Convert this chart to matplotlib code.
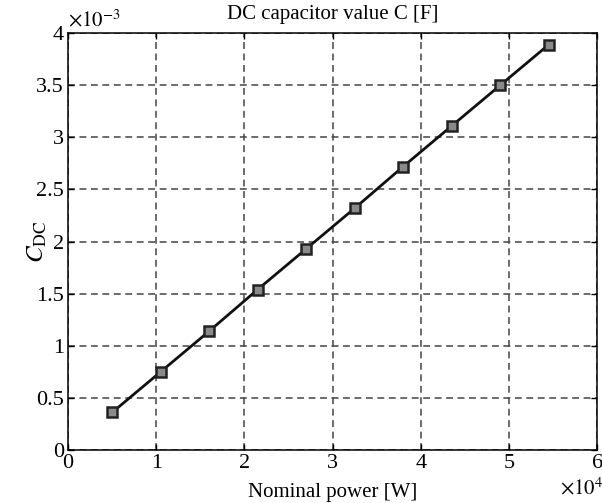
import numpy as np
import matplotlib
matplotlib.use("Agg")
import matplotlib.pyplot as plt

plt.rcParams['font.family'] = 'Liberation Serif'
plt.rcParams['mathtext.fontset'] = 'stix'

# nominal power [W] and DC capacitor value [F]
power = np.array([5000, 10500, 16000, 21500, 27000, 32500, 38000, 43500, 49000, 54500])
cap = np.array([0.36e-3, 0.75e-3, 1.14e-3, 1.54e-3, 1.93e-3, 2.32e-3, 2.72e-3, 3.11e-3, 3.50e-3, 3.89e-3])

xticks = [0, 1, 2, 3, 4, 5, 6]
yticks = [0, 0.5, 1, 1.5, 2, 2.5, 3, 3.5, 4]
yticklabels = ['0', '0.5', '1', '1.5', '2', '2.5', '3', '3.5', '4']

fig = plt.figure(figsize=(6.02, 5.03), dpi=100)
ax = fig.add_axes([0.113, 0.1054, 0.879, 0.8286])

ax.plot(power / 1e4, cap / 1e-3, color='#111111', lw=2.0, marker='s',
        markersize=6.5, markerfacecolor='#8a8a8a', markeredgecolor='#222222',
        markeredgewidth=1.8, zorder=3)

ax.set_xlim(0, 6)
ax.set_ylim(0, 4)
ax.set_xticks(xticks)
ax.set_yticks(yticks)
ax.set_yticklabels(yticklabels)
ax.tick_params(direction='in', top=True, right=True, length=4, width=1,
               labelsize=16, pad=3)

ax.grid(True, color='#444444', linestyle=(0, (4.5, 3)), linewidth=1.1)
for s in ax.spines.values():
    s.set_linewidth(1.1)

ax.set_title('DC capacitor value C [F]', fontsize=15, pad=10)
ax.set_xlabel('Nominal power [W]', fontsize=15)
ax.xaxis.set_label_coords(0.5, -0.08)
ax.set_ylabel(r'$C_{\mathrm{DC}}$', fontsize=18)
ax.yaxis.set_label_coords(-0.036, 0.5)

ax.text(0.0, 1.005, r'$\times 10^{-3}$', transform=ax.transAxes,
        fontsize=15, ha='left', va='bottom')
ax.text(1.012, -0.107, r'$\times 10^{4}$', transform=ax.transAxes,
        fontsize=15, ha='right', va='baseline')

fig.savefig('out.png', dpi=100)
